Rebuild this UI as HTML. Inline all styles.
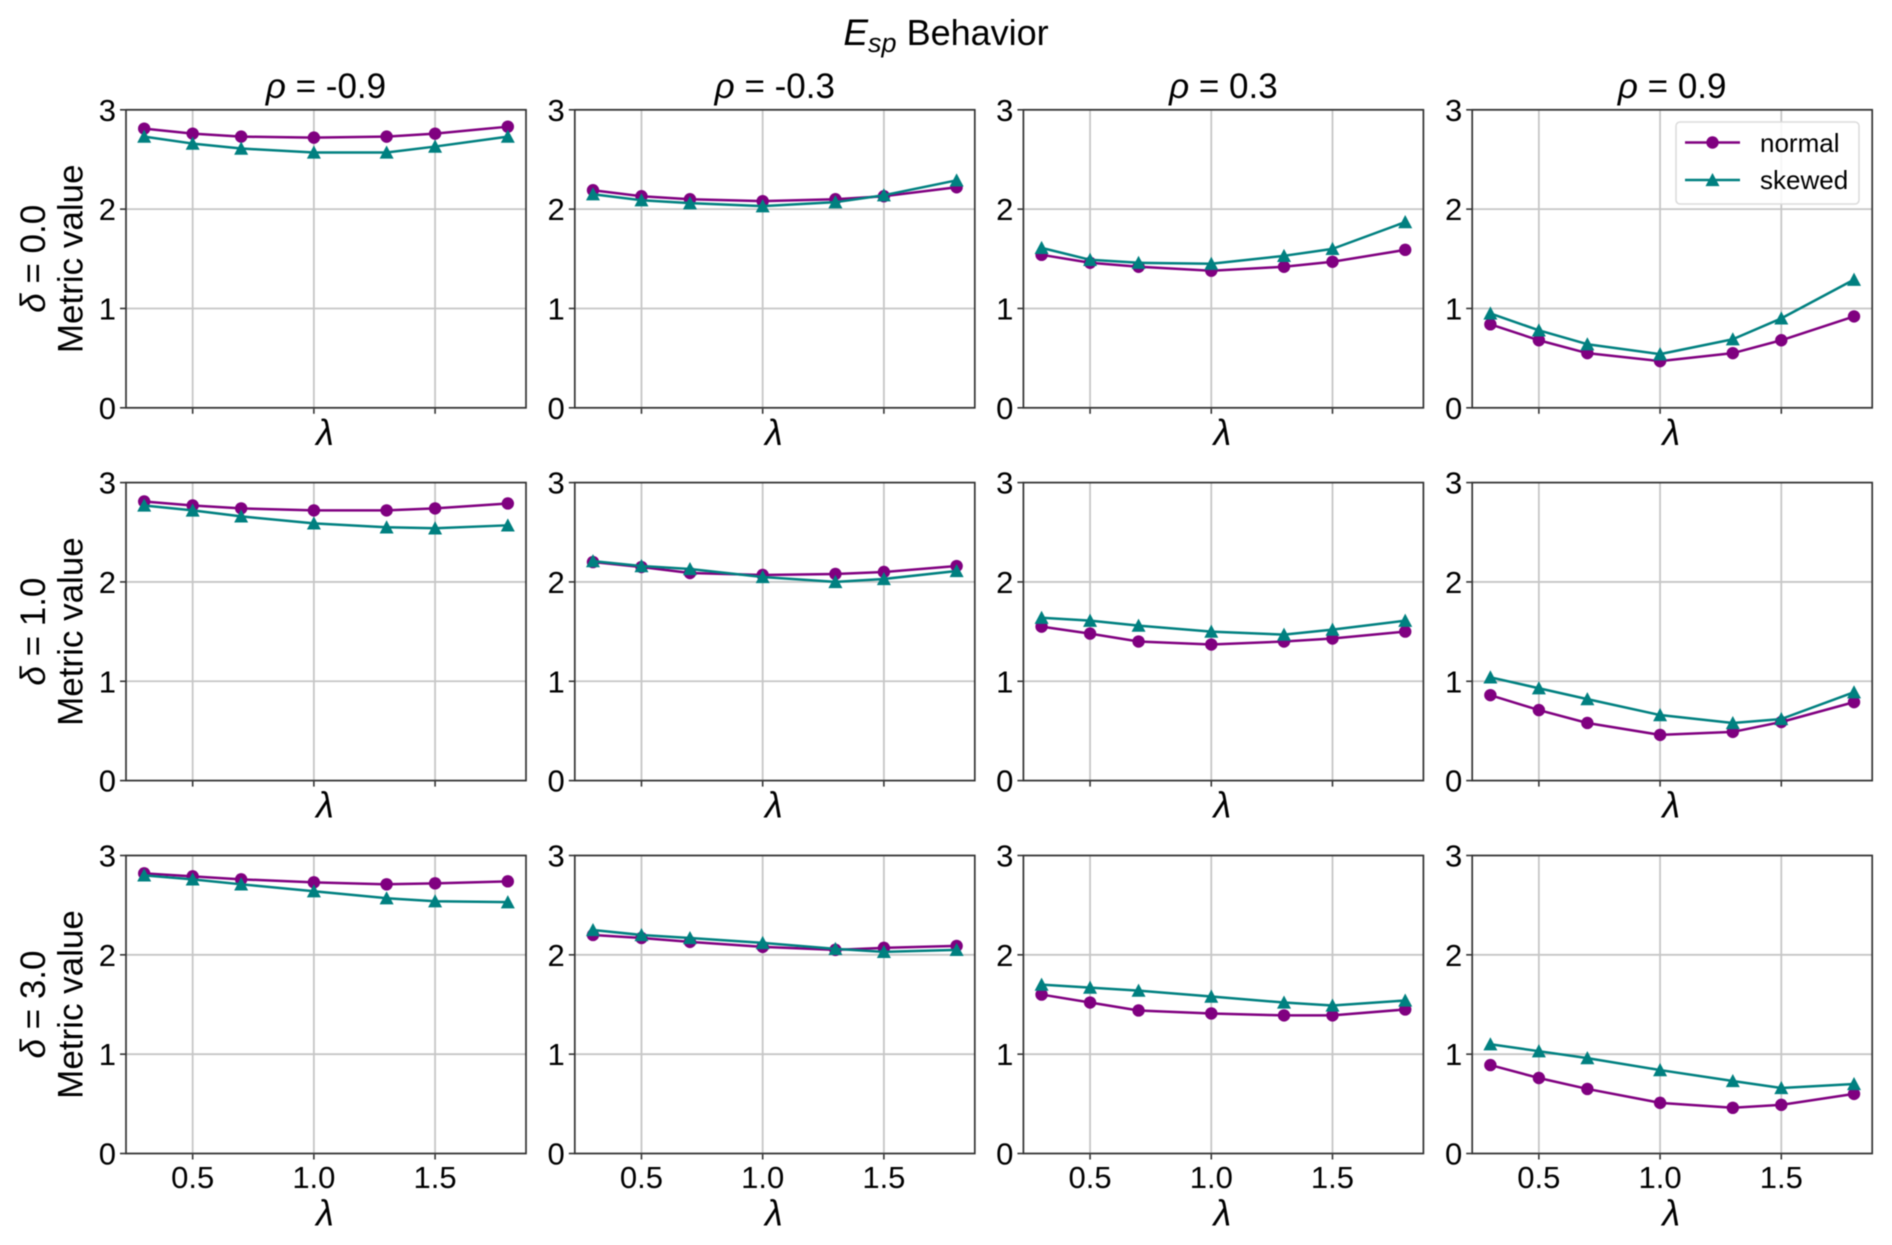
<!DOCTYPE html>
<html lang="en">
<head>
<meta charset="utf-8">
<title>Esp Behavior</title>
<style>
html,body{margin:0;padding:0;background:#fff;width:1892px;height:1245px;overflow:hidden}
svg{display:block;filter:blur(0.5px)}
text{font-family:"Liberation Sans",sans-serif;fill:#000}
</style>
</head>
<body>
<svg id="chart" xmlns="http://www.w3.org/2000/svg" width="1892" height="1245" viewBox="0 0 1892 1245">
  <text x="946" y="45" text-anchor="middle" font-size="36"><tspan font-style="italic" font-size="37">E</tspan><tspan font-style="italic" font-size="27" dy="7">sp</tspan><tspan dy="-7"> Behavior</tspan></text>
</svg>
<script>
const lambdas = [0.3, 0.5, 0.7, 1.0, 1.3, 1.5, 1.8];
const rhoLabels = ["-0.9", "-0.3", "0.3", "0.9"];
const deltaLabels = ["0.0", "1.0", "3.0"];
const yTickValues = [0, 1, 2, 3];
const yTickLabels = ["0", "1", "2", "3"];
const xTickValues = [0.5, 1.0, 1.5];
const xTickLabels = ["0.5", "1.0", "1.5"];
const seriesNames = ["normal", "skewed"];
const yLabelText = "Metric value";

const normalDelta0 = [
  [2.81, 2.76, 2.73, 2.72, 2.73, 2.76, 2.83],
  [2.19, 2.13, 2.10, 2.08, 2.10, 2.13, 2.22],
  [1.54, 1.46, 1.42, 1.38, 1.42, 1.47, 1.59],
  [0.84, 0.68, 0.55, 0.47, 0.55, 0.68, 0.92]
];
const skewedDelta0 = [
  [2.73, 2.66, 2.61, 2.57, 2.57, 2.63, 2.73],
  [2.15, 2.09, 2.06, 2.03, 2.07, 2.14, 2.29],
  [1.61, 1.49, 1.46, 1.45, 1.53, 1.60, 1.87],
  [0.95, 0.78, 0.64, 0.54, 0.69, 0.90, 1.29]
];
const normalDelta1 = [
  [2.81, 2.77, 2.74, 2.72, 2.72, 2.74, 2.79],
  [2.20, 2.15, 2.09, 2.07, 2.08, 2.10, 2.16],
  [1.55, 1.48, 1.40, 1.37, 1.40, 1.43, 1.50],
  [0.86, 0.71, 0.58, 0.46, 0.49, 0.59, 0.79]
];
const skewedDelta1 = [
  [2.77, 2.72, 2.66, 2.59, 2.55, 2.54, 2.57],
  [2.21, 2.16, 2.13, 2.05, 2.00, 2.03, 2.11],
  [1.64, 1.61, 1.56, 1.50, 1.47, 1.52, 1.61],
  [1.04, 0.93, 0.82, 0.66, 0.58, 0.62, 0.89]
];
const normalDelta3 = [
  [2.82, 2.79, 2.76, 2.73, 2.71, 2.72, 2.74],
  [2.20, 2.17, 2.13, 2.08, 2.05, 2.07, 2.09],
  [1.60, 1.52, 1.44, 1.41, 1.39, 1.39, 1.45],
  [0.89, 0.76, 0.65, 0.51, 0.46, 0.49, 0.60]
];
const skewedDelta3 = [
  [2.80, 2.76, 2.71, 2.64, 2.57, 2.54, 2.53],
  [2.25, 2.20, 2.17, 2.12, 2.06, 2.03, 2.05],
  [1.70, 1.67, 1.64, 1.58, 1.52, 1.49, 1.54],
  [1.10, 1.03, 0.96, 0.84, 0.73, 0.66, 0.70]
];
const normalRows = [normalDelta0, normalDelta1, normalDelta3];
const skewedRows = [skewedDelta0, skewedDelta1, skewedDelta3];

const NS = "http://www.w3.org/2000/svg";
const svg = document.getElementById("chart");
const PURPLE = "#800080", TEAL = "#008080", GRID = "#c6c6c6", SPINE = "#333333";
const colLeft = [126, 574.8, 1023.4, 1472.2];
const rowTop = [109.8, 482.6, 855.5];
const AW = 400, AH = 298;
const X_MIN = 0.225, X_MAX = 1.875, Y_MIN = 0, Y_MAX = 3;

function make(tag, attrs, parent) {
  const el = document.createElementNS(NS, tag);
  for (const k in attrs) el.setAttribute(k, attrs[k]);
  parent.appendChild(el);
  return el;
}
function xAxis(v, left) { return left + (v - X_MIN) / (X_MAX - X_MIN) * AW; }
function yAxis(v, top) { return top + AH - (v - Y_MIN) / (Y_MAX - Y_MIN) * AH; }
function triPoints(x, y, s) {
  return (x) + "," + (y - s) + " " + (x - s) + "," + (y + s * 0.88) + " " + (x + s) + "," + (y + s * 0.88);
}
function drawCircle(parent, cx, cy) {
  const m = make("circle", { cx: cx, cy: cy, r: 6.2, fill: PURPLE }, parent);
  
  
}
function drawTriangle(parent, cx, cy) {
  const m = make("polygon", { points: triPoints(cx, cy, 7), fill: TEAL }, parent);
  
  
}
function drawSeries(parent, values, left, top, color, name, marker) {
  const g = make("g", {}, parent);
  
  
  const pts = values.map(function (v, i) { return xAxis(lambdas[i], left) + "," + yAxis(v, top); }).join(" ");
  const line = make("polyline", { points: pts, fill: "none", stroke: color, "stroke-width": 2.5, "stroke-linejoin": "round" }, g);
  
  
  values.forEach(function (v, i) {
    marker(g, xAxis(lambdas[i], left), yAxis(v, top));
  });
}
function drawPanel(r, c) {
  const left = colLeft[c], top = rowTop[r], bottom = top + AH, right = left + AW;
  const panel = make("g", {}, svg);
  
  

  xTickValues.forEach(function (v, i) {
    const x = xAxis(v, left);
    const gl = make("line", { x1: x, x2: x, y1: top, y2: bottom, stroke: GRID, "stroke-width": 1.8 }, panel);
    
    
    const tk = make("line", { x1: x, x2: x, y1: bottom, y2: bottom + 6, stroke: SPINE, "stroke-width": 1.6 }, panel);
    
    
    if (r === 2) {
      const tl = make("text", { x: x, y: bottom + 34.5, "text-anchor": "middle", "font-size": 31 }, panel);
      
      
      tl.textContent = xTickLabels[i];
    }
  });
  yTickValues.forEach(function (v, i) {
    const y = yAxis(v, top);
    const gl = make("line", { x1: left, x2: right, y1: y, y2: y, stroke: GRID, "stroke-width": 1.8 }, panel);
    
    
    const tk = make("line", { x1: left - 6, x2: left, y1: y, y2: y, stroke: SPINE, "stroke-width": 1.6 }, panel);
    
    
    const tl = make("text", { x: left - 10, y: y + 11, "text-anchor": "end", "font-size": 31 }, panel);
    
    
    tl.textContent = yTickLabels[i];
  });

  drawSeries(panel, normalRows[r][c], left, top, PURPLE, seriesNames[0], drawCircle);
  drawSeries(panel, skewedRows[r][c], left, top, TEAL, seriesNames[1], drawTriangle);

  const frame = make("rect", { x: left, y: top, width: AW, height: AH, fill: "none", stroke: SPINE, "stroke-width": 1.7 }, panel);
  
  

  const xl = make("text", { x: left + AW / 2 - 1, y: bottom + (r === 2 ? 72 : 37), "text-anchor": "middle", "font-size": 36, "font-style": "italic" }, panel);
  
  
  xl.textContent = "λ";

  if (r === 0) {
    const t = make("text", { x: left + AW / 2, y: 98, "text-anchor": "middle", "font-size": 35 }, panel);
    
    
    const rho = make("tspan", { "font-style": "italic" }, t);
    rho.textContent = "ρ";
    const rest = make("tspan", {}, t);
    rest.textContent = " = " + rhoLabels[c];
  }
  if (c === 0) {
    const cy = top + AH / 2;
    const d = make("text", { transform: "translate(45 " + cy + ") rotate(-90)", "text-anchor": "middle", "font-size": 35 }, panel);
    
    
    const ds = make("tspan", { "font-style": "italic" }, d);
    ds.textContent = "δ";
    const dr = make("tspan", {}, d);
    dr.textContent = " = " + deltaLabels[r];
    const m = make("text", { transform: "translate(82.5 " + cy + ") rotate(-90)", "text-anchor": "middle", "font-size": 35 }, panel);
    
    
    m.textContent = yLabelText;
  }
}
for (let r = 0; r < 3; r++) {
  for (let c = 0; c < 4; c++) drawPanel(r, c);
}

const legend = make("g", {}, svg);


const legendBox = make("rect", { x: 1676, y: 122, width: 183, height: 82, rx: 4, fill: "rgba(255,255,255,0.85)", stroke: "#dcdcdc", "stroke-width": 1.6 }, legend);


[[142.5, PURPLE, drawCircle, 152], [180, TEAL, drawTriangle, 189]].forEach(function (row, i) {
  const ln = make("line", { x1: 1685, x2: 1740, y1: row[0], y2: row[0], stroke: row[1], "stroke-width": 2.4 }, legend);
  
  
  row[2](legend, 1712.5, row[0]);
  const tx = make("text", { x: 1760, y: row[3], "font-size": 26 }, legend);
  
  
  tx.textContent = seriesNames[i];
});
</script>
</body>
</html>
